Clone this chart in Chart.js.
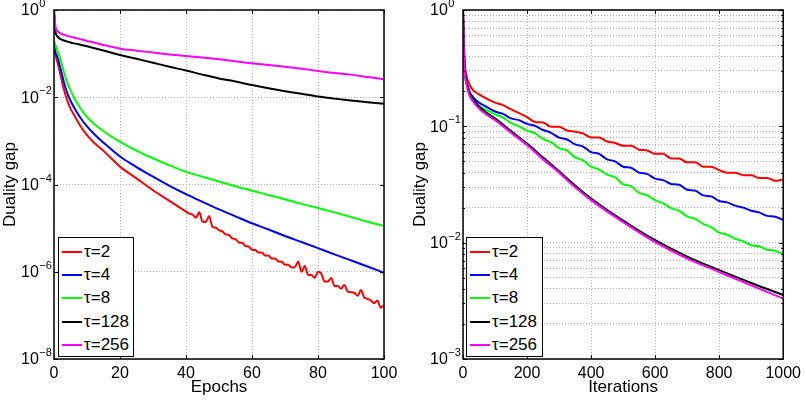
<!DOCTYPE html>
<html>
<head>
<meta charset="utf-8">
<script src="https://cdn.jsdelivr.net/npm/chart.js@4.4.1/dist/chart.umd.min.js"></script>
<style>
  body { margin: 0; background: #fff; width: 806px; height: 400px; position: relative; overflow: hidden; font-family: "Liberation Sans", Arial, sans-serif; }
  .panel { position: absolute; top: 0; }
  .legend { position: absolute; background: #fff; border: 1.5px solid #000; box-sizing: border-box; padding-top: 2px; }
  .legend .row { height: 23.4px; display: flex; align-items: center; font-size: 17px; color: #000; white-space: nowrap; }
  .legend .swatch { width: 20px; height: 2px; margin-left: 3px; margin-right: 2px; }
</style>
</head>
<body>
<div class="panel" style="left:0px"><canvas id="leftChart" width="410" height="400"></canvas></div>
<div class="panel" style="left:410px"><canvas id="rightChart" width="396" height="400"></canvas></div>
<div class="legend" id="leftLegend" style="left:58px; top:237px; width:76px; height:120px"></div>
<div class="legend" id="rightLegend" style="left:466px; top:237px; width:77px; height:120px"></div>

<script>
// series names and colours
const labels = ['τ=2', 'τ=4', 'τ=8', 'τ=128', 'τ=256'];
const colors = ['#ff0000', '#0000ff', '#00ff00', '#000000', '#ff00ff'];

// left panel: duality gap against epochs
const epochs = [0, 0.5, 1, 2, 3, 4, 5, 6, 8, 10, 12, 15, 20, 25, 30, 35, 40, 45, 50, 55, 60, 65, 70, 75, 80, 85, 90, 95, 100];
const epochsRed = [0, 0.5, 1, 2, 3, 4, 5, 6, 8, 10, 12, 15, 20, 25, 30, 35, 40,
  41, 42, 43, 44, 45, 46, 47, 48, 49, 50, 51, 52, 53, 54, 55, 56, 57, 58, 59, 60,
  61, 62, 63, 64, 65, 66, 67, 68, 69, 70, 71, 72, 73, 74, 75, 76, 77, 78, 79, 80,
  81, 82, 83, 84, 85, 86, 87, 88, 89, 90, 91, 92, 93, 94, 95, 96, 97, 98, 99, 100];
const gap2Ep = [0.14, 0.09, 0.065, 0.032, 0.015, 0.0085, 0.0055, 0.004, 0.0022, 0.00135, 0.00093, 0.00059, 0.000257, 0.000138, 7.4e-5, 4.2e-5, 2.4e-5,
  2.15e-5, 2.05e-5, 1.72e-5, 2.3e-5, 1.42e-5, 1.38e-5, 1.9e-5, 1.08e-5, 1.02e-5, 8.9e-6,
  8.4e-6, 7.2e-6, 7.0e-6, 5.8e-6, 5.6e-6, 4.7e-6, 4.6e-6, 3.9e-6, 3.8e-6, 3.2e-6,
  3.15e-6, 2.75e-6, 2.75e-6, 2.35e-6, 2.35e-6, 2.0e-6, 2.0e-6, 1.72e-6, 1.7e-6, 1.45e-6,
  1.45e-6, 1.25e-6, 1.28e-6, 1.7e-6, 1.0e-6, 1.35e-6, 8.5e-7, 8.4e-7, 7.3e-7, 1.0e-6,
  9.0e-7, 6.0e-7, 6.0e-7, 7.2e-7, 4.7e-7, 4.7e-7, 4.1e-7, 5.0e-7, 3.5e-7, 3.4e-7,
  3.3e-7, 2.8e-7, 3.8e-7, 2.6e-7, 2.4e-7, 2.2e-7, 1.9e-7, 2.2e-7, 1.5e-7, 1.7e-7];
const gap4Ep = [0.15, 0.105, 0.085, 0.045, 0.022, 0.0126, 0.0083, 0.006, 0.0034, 0.00214, 0.00148, 0.00091, 0.000437, 0.000251, 0.000151, 9.3e-5, 6.0e-5, 4.0e-5, 2.7e-5, 1.86e-5, 1.29e-5, 9.3e-6, 6.6e-6, 4.8e-6, 3.47e-6, 2.5e-6, 1.82e-6, 1.32e-6, 9.5e-7];
const gap8Ep = [0.2, 0.15, 0.12, 0.071, 0.038, 0.022, 0.0145, 0.01, 0.0056, 0.00355, 0.0025, 0.00166, 0.00095, 0.0006, 0.0004, 0.000275, 0.000195, 0.000151, 0.000117, 9.1e-5, 7.2e-5, 5.75e-5, 4.6e-5, 3.6e-5, 2.9e-5, 2.3e-5, 1.8e-5, 1.4e-5, 1.12e-5];
const gap128Ep = [1, 0.30, 0.25, 0.215, 0.20, 0.19, 0.18, 0.172, 0.16, 0.147, 0.135, 0.118, 0.093, 0.076, 0.062, 0.050, 0.041, 0.033, 0.027, 0.023, 0.019, 0.016, 0.0138, 0.012, 0.0104, 0.0093, 0.0084, 0.0077, 0.0071];
const gap256Ep = [1, 0.39, 0.33, 0.29, 0.27, 0.255, 0.245, 0.235, 0.215, 0.195, 0.18, 0.158, 0.13, 0.117, 0.106, 0.096, 0.088, 0.081, 0.074, 0.067, 0.060, 0.055, 0.050, 0.045, 0.040, 0.036, 0.033, 0.029, 0.026];

// right panel: duality gap against iterations
const itersNoisy = [0, 2, 5, 10, 20, 30, 50, 75, 100, 125, 150, 175, 200, 225, 250, 275, 300, 325, 350, 375, 400, 425, 450, 475, 500,
  525, 550, 575, 600, 625, 650, 675, 700, 725, 750, 775, 800, 825, 850, 875, 900, 925, 950, 975, 1000];
const itersSmooth = [0, 2, 5, 10, 20, 30, 50, 75, 100, 150, 200, 250, 300, 350, 400, 500, 600, 700, 800, 900, 1000];
const gap2It = [1, 0.6, 0.36, 0.28, 0.23, 0.207, 0.188, 0.172, 0.16, 0.152, 0.14, 0.130, 0.120, 0.109, 0.108, 0.099, 0.099, 0.092, 0.090, 0.087, 0.080, 0.080, 0.074, 0.072, 0.068,
  0.068, 0.063, 0.062, 0.058, 0.058, 0.053, 0.053, 0.049, 0.049, 0.045, 0.045, 0.042, 0.040, 0.040, 0.038, 0.038, 0.036, 0.036, 0.034, 0.035];
const gap4It = [1, 0.58, 0.32, 0.25, 0.2, 0.18, 0.16, 0.146, 0.134, 0.128, 0.117, 0.113, 0.105, 0.101, 0.093, 0.088, 0.080, 0.077, 0.070, 0.067, 0.060, 0.058, 0.052, 0.050, 0.045,
  0.044, 0.040, 0.039, 0.0355, 0.0345, 0.032, 0.0315, 0.0285, 0.028, 0.0255, 0.025, 0.0228, 0.0222, 0.0208, 0.0200, 0.0188, 0.0182, 0.0170, 0.0167, 0.0157];
const gap8It = [1, 0.56, 0.30, 0.24, 0.19, 0.17, 0.15, 0.137, 0.127, 0.119, 0.107, 0.100, 0.092, 0.087, 0.078, 0.073, 0.065, 0.062, 0.054, 0.051, 0.045, 0.0425, 0.0385, 0.0365, 0.0318,
  0.0305, 0.0268, 0.0255, 0.0232, 0.0218, 0.0198, 0.0188, 0.0168, 0.016, 0.0145, 0.0136, 0.0122, 0.0117, 0.0108, 0.0103, 0.0095, 0.0093, 0.0087, 0.0085, 0.0080];
const gap128It = [1, 0.55, 0.33, 0.25, 0.195, 0.175, 0.148, 0.13, 0.117, 0.091, 0.071, 0.054, 0.041, 0.031, 0.024, 0.0155, 0.0105, 0.0076, 0.0058, 0.0045, 0.00355];
const gap256It = [1, 0.52, 0.31, 0.235, 0.185, 0.165, 0.142, 0.125, 0.113, 0.088, 0.069, 0.052, 0.040, 0.030, 0.0232, 0.0150, 0.0101, 0.0073, 0.0056, 0.0043, 0.0033];

// axis ticks
const leftYTicks = [1e-8, 1e-6, 1e-4, 1e-2, 1];
const rightYDecades = [1e-3, 1e-2, 1e-1, 1];
const fontFamily = '"Liberation Sans", Arial, sans-serif';

function decadeExp(v) {
  const e = Math.round(Math.log10(v));
  return Math.abs(Math.log10(v) - e) < 1e-6 ? e : null;
}

function pts(xs, ys) {
  return xs.map((x, i) => ({ x: x, y: ys[i] }));
}

function makeSets(xsList, ysList) {
  return ysList.map((ys, i) => ({
    label: labels[i],
    data: pts(xsList[i], ys),
    borderColor: colors[i],
    backgroundColor: colors[i],
    borderWidth: 2,
    pointRadius: 0,
    cubicInterpolationMode: 'monotone',
    order: 5 - i
  }));
}

// box round the plot with inward tick marks, and the 10^n labels
const framePlugin = {
  id: 'frame',
  afterDatasetsDraw(chart) {
    const { ctx, chartArea: a, scales } = chart;
    ctx.save();
    ctx.strokeStyle = '#000';
    ctx.lineWidth = 1;
    ctx.beginPath();
    scales.x.ticks.forEach(t => {
      const px = Math.round(scales.x.getPixelForValue(t.value)) + 0.5;
      ctx.moveTo(px, a.bottom); ctx.lineTo(px, a.bottom - 4);
      ctx.moveTo(px, a.top); ctx.lineTo(px, a.top + 4);
    });
    scales.y.ticks.forEach(t => {
      const len = decadeExp(t.value) !== null ? 4 : 2;
      const py = Math.round(scales.y.getPixelForValue(t.value)) + 0.5;
      ctx.moveTo(a.left, py); ctx.lineTo(a.left + len, py);
      ctx.moveTo(a.right, py); ctx.lineTo(a.right - len, py);
    });
    ctx.stroke();
    ctx.lineWidth = 1.5;
    ctx.strokeRect(a.left, a.top, a.right - a.left, a.bottom - a.top);

    // y tick labels: "10" with a raised exponent
    ctx.fillStyle = '#000';
    scales.y.ticks.forEach(t => {
      const e = decadeExp(t.value);
      if (e === null) return;
      const py = scales.y.getPixelForValue(t.value);
      const x0 = a.left - 33;
      ctx.font = '16px ' + fontFamily;
      ctx.textAlign = 'left';
      ctx.textBaseline = 'middle';
      ctx.fillText('10', x0, py + 1);
      const w = ctx.measureText('10').width;
      ctx.font = '11px ' + fontFamily;
      ctx.textBaseline = 'alphabetic';
      ctx.fillText(String(e).replace('-', '−'), x0 + w + 0.5, py - 3);
    });
    ctx.restore();
  }
};

function makeChart(id, datasets, xMax, xStep, xTitle, yMin, yTicks, yWidth, padRight) {
  return new Chart(document.getElementById(id), {
    type: 'line',
    data: { datasets: datasets },
    options: {
      responsive: false,
      animation: false,
      layout: { padding: { top: 10, right: padRight, bottom: 0, left: 0 } },
      plugins: { legend: { display: false }, tooltip: { enabled: false } },
      scales: {
        x: {
          type: 'linear', min: 0, max: xMax,
          ticks: { stepSize: xStep, color: '#000', padding: 5, maxRotation: 0, font: { family: fontFamily, size: 16 }, callback: v => String(v) },
          grid: { color: '#b0b0b0', lineWidth: 1, drawTicks: false },
          border: { display: false, dash: [1, 2] },
          title: { display: true, text: xTitle, color: '#000', padding: { top: 0, bottom: 2 }, font: { family: fontFamily, size: 17 } },
          afterFit(s) { s.height = 41; }
        },
        y: {
          type: 'logarithmic', min: yMin, max: 1,
          afterBuildTicks(s) { s.ticks = yTicks.map(v => ({ value: v })); },
          ticks: { display: false },
          grid: { color: '#b0b0b0', lineWidth: 1, drawTicks: false },
          border: { display: false, dash: [1, 2] },
          title: { display: true, text: 'Duality gap', color: '#000', padding: { top: 0, bottom: 0 }, font: { family: fontFamily, size: 17 } },
          afterFit(s) { s.width = yWidth; }
        }
      }
    },
    plugins: [framePlugin]
  });
}

function fillLegend(id) {
  const box = document.getElementById(id);
  labels.forEach((lab, i) => {
    const row = document.createElement('div');
    row.className = 'row';
    const sw = document.createElement('span');
    sw.className = 'swatch';
    sw.style.background = colors[i];
    const tx = document.createElement('span');
    tx.textContent = lab;
    row.appendChild(sw);
    row.appendChild(tx);
    box.appendChild(row);
  });
}

// right panel gets a tick on every 1..9 step of each decade (minor grid)
const rightYTicks = [];
rightYDecades.forEach(d => {
  if (d === 1) { rightYTicks.push(1); return; }
  for (let m = 1; m <= 9; m++) rightYTicks.push(d * m);
});

makeChart('leftChart',
  makeSets([epochsRed, epochs, epochs, epochs, epochs], [gap2Ep, gap4Ep, gap8Ep, gap128Ep, gap256Ep]),
  100, 20, 'Epochs', 1e-8, leftYTicks, 54, 26);
makeChart('rightChart',
  makeSets([itersNoisy, itersNoisy, itersNoisy, itersSmooth, itersSmooth], [gap2It, gap4It, gap8It, gap128It, gap256It]),
  1000, 200, 'Iterations', 1e-3, rightYTicks, 53, 18);
fillLegend('leftLegend');
fillLegend('rightLegend');
</script>
</body>
</html>
